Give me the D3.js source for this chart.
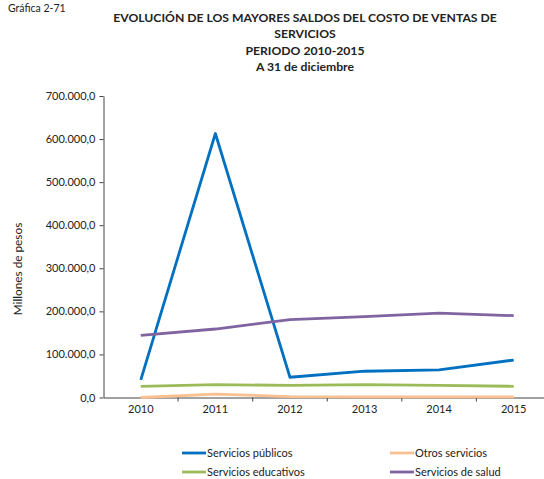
<!DOCTYPE html>
<html><head><meta charset="utf-8">
<script src="https://cdn.jsdelivr.net/npm/d3@7"></script>
<style>body{margin:0;background:#fff}svg{display:block}text{font-family:Lato,"Open Sans",sans-serif;fill:#222}</style>
</head><body><svg id="c" width="544" height="479"></svg>
<script>
const years = ["2010","2011","2012","2013","2014","2015"];
const publicos = [41000, 613000, 47000, 61000, 64000, 87000];
const otros = [0, 8000, 2000, 1500, 1500, 1500];
const educativos = [26000, 30000, 28000, 30000, 28000, 26000];
const salud = [144000, 159000, 181000, 188000, 196000, 190000];
const yTicks = [0,100000,200000,300000,400000,500000,600000,700000];
const seriesNames = ["Servicios públicos","Otros servicios","Servicios educativos","Servicios de salud"];
const seriesColors = ["#0070C0","#FAC090","#9BBB59","#8064A2"];
const seriesData = [publicos, otros, educativos, salud];

const svg = d3.select("#c");
const x = d3.scaleBand().domain(years).range([103.5, 551]);
const y = d3.scaleLinear().domain([0,700000]).range([397.5, 96]);
const fmt = v => d3.format(",.1f")(v).replace(/,/g,"#").replace(/\./g,",").replace(/#/g,".");

// title
svg.append("text").attr("x",8).attr("y",12).attr("font-size",10.5).text("Gráfica 2-71");
const titles = ["EVOLUCIÓN DE LOS MAYORES SALDOS DEL COSTO DE VENTAS DE","SERVICIOS","PERIODO 2010-2015","A 31 de diciembre"];
const ty = [21.5, 38, 54.5, 71];
titles.forEach((t,i)=>svg.append("text").attr("x",305).attr("y",ty[i]).attr("text-anchor","middle")
  .attr("font-size",12.2).attr("font-weight","bold").attr("fill","#000").text(t));

// y axis
const ya = svg.append("g").attr("transform","translate(103.5,0)")
  .call(d3.axisLeft(y).tickValues(yTicks).tickFormat(fmt).tickSize(4).tickSizeOuter(0));
ya.select(".domain").attr("stroke","#444");
ya.selectAll(".tick line").attr("stroke","#444");
ya.selectAll("text").attr("font-size",11).attr("font-family","Lato,sans-serif").attr("fill","#222").attr("x",-8);

// x axis
const xa = svg.append("g").attr("transform","translate(0,397.5)")
  .call(d3.axisBottom(x).tickSize(0).tickSizeOuter(0));
xa.select(".domain").attr("stroke","#444");
xa.selectAll("text").attr("font-size",11).attr("font-family","Lato,sans-serif").attr("fill","#222").attr("dy","1.15em");
xa.selectAll(".bnd").data(years.slice(1)).enter().append("line").attr("class","bnd")
  .attr("x1",d=>x(d)).attr("x2",d=>x(d)).attr("y1",0).attr("y2",4).attr("stroke","#444");

// y title
svg.append("text").attr("transform","translate(22,269) rotate(-90)").attr("text-anchor","middle")
  .attr("font-size",11.8).text("Millones de pesos");

// lines
const line = d3.line().x((d,i)=>x(years[i])+x.bandwidth()/2).y(d=>y(d));
seriesData.forEach((s,i)=>{
  svg.append("path").datum(s).attr("d",line).attr("fill","none").attr("stroke",seriesColors[i])
    .attr("stroke-width",2.8).attr("stroke-linejoin","round");
});

// legend
const lx = [182, 390], lyy = [453, 472];
seriesNames.forEach((n,i)=>{
  const cx = lx[i%2], cy = lyy[Math.floor(i/2)];
  svg.append("line").attr("x1",cx).attr("x2",cx+24).attr("y1",cy).attr("y2",cy)
    .attr("stroke",seriesColors[i]).attr("stroke-width",2.8);
  svg.append("text").attr("x",cx+25).attr("y",cy+3.8).attr("font-size",11).text(n);
});
</script></body></html>
